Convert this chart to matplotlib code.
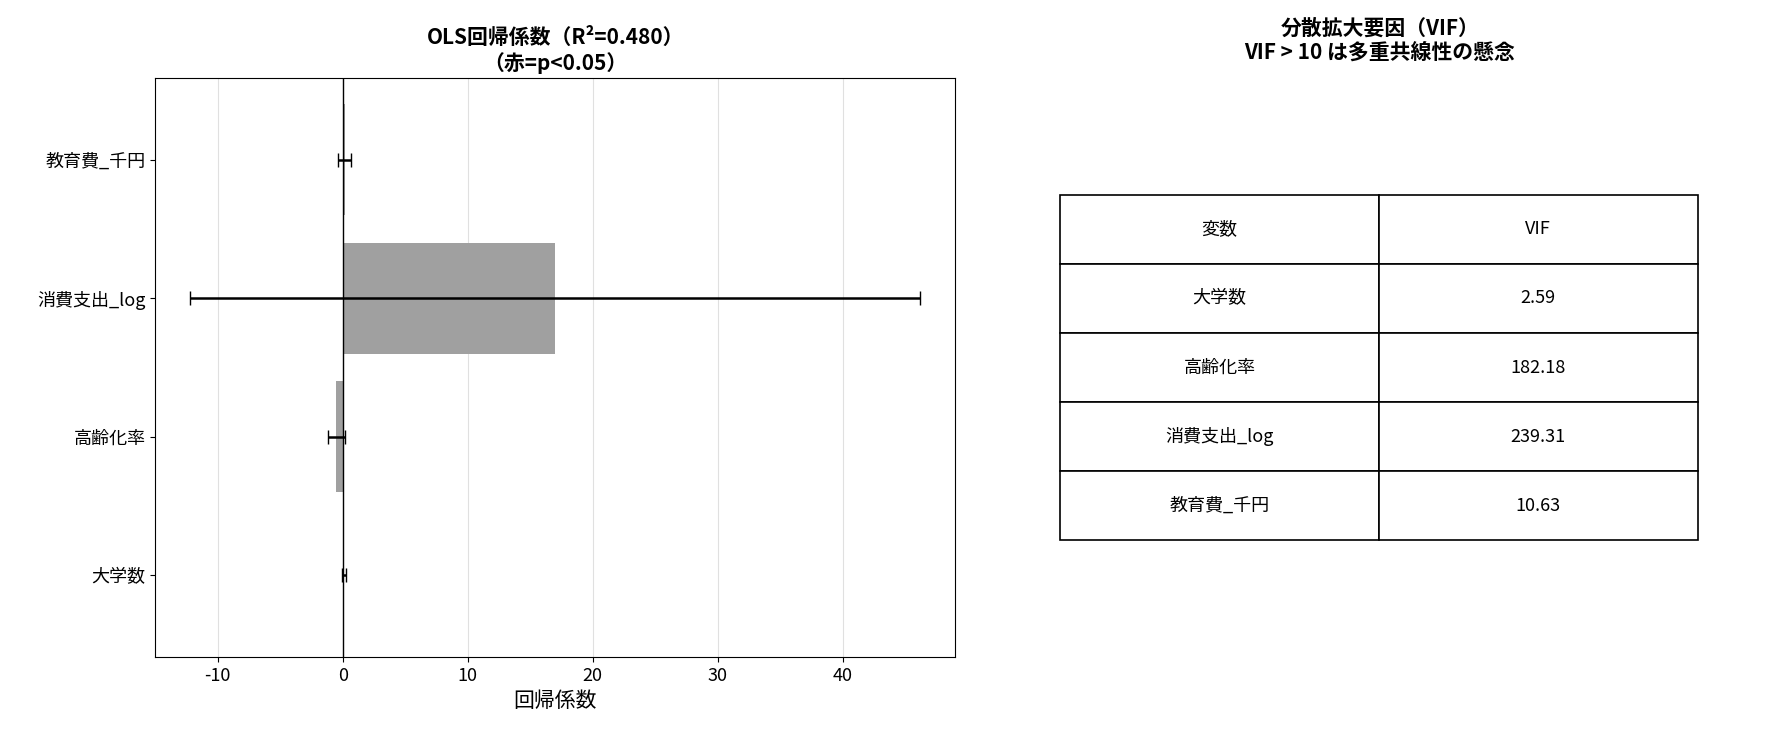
import matplotlib
matplotlib.use("Agg")
import matplotlib.pyplot as plt
import numpy as np

plt.rcParams['font.family'] = ['Noto Sans CJK JP', 'DejaVu Sans']
plt.rcParams['axes.unicode_minus'] = False

variables = ['大学数', '高齢化率', '消費支出_log', '教育費_千円']
coefs = [0.1, -0.5, 17.0, 0.15]
errors = [0.15, 0.7, 29.2, 0.5]
vif_vars = ['大学数', '高齢化率', '消費支出_log', '教育費_千円']
vif_vals = ['2.59', '182.18', '239.31', '10.63']

fig = plt.figure(figsize=(17.85, 7.35), dpi=100)
ax = fig.add_axes([0.087, 0.106, 0.448, 0.788])
y = np.arange(len(variables))
ax.barh(y, coefs, color='#a0a0a0', height=0.8, zorder=2)
ax.errorbar(coefs, y, xerr=errors, fmt='none', ecolor='black', capsize=5, lw=1.8, zorder=3)
ax.axvline(0, color='black', lw=1, zorder=4)
ax.set_yticks(y)
ax.set_yticklabels(variables, fontsize=13)
ax.set_xlim(-15, 49)
ax.set_xticks([-10, 0, 10, 20, 30, 40])
ax.tick_params(axis='x', labelsize=13)
ax.xaxis.grid(True, color='#e0e0e0', zorder=0)
ax.set_axisbelow(True)
ax.set_xlabel('回帰係数', fontsize=15)
ax.set_title('OLS回帰係数（R²=0.480）\n（赤=p<0.05）', fontsize=15, fontweight='bold')

ax2 = fig.add_axes([0.594, 0.265, 0.357, 0.47])
ax2.axis('off')
cells = [[v, s] for v, s in zip(vif_vars, vif_vals)]
tbl = ax2.table(cellText=cells, colLabels=['変数', 'VIF'], cellLoc='center', bbox=[0, 0, 1, 1])
tbl.auto_set_font_size(False)
tbl.set_fontsize(13)
for c in tbl.get_celld().values():
    c.set_linewidth(1.2)
fig.text(0.773, 0.945, '分散拡大要因（VIF）\nVIF > 10 は多重共線性の懸念', ha='center', va='center',
         fontsize=15, fontweight='bold')
fig.savefig('out.png', dpi=100)
